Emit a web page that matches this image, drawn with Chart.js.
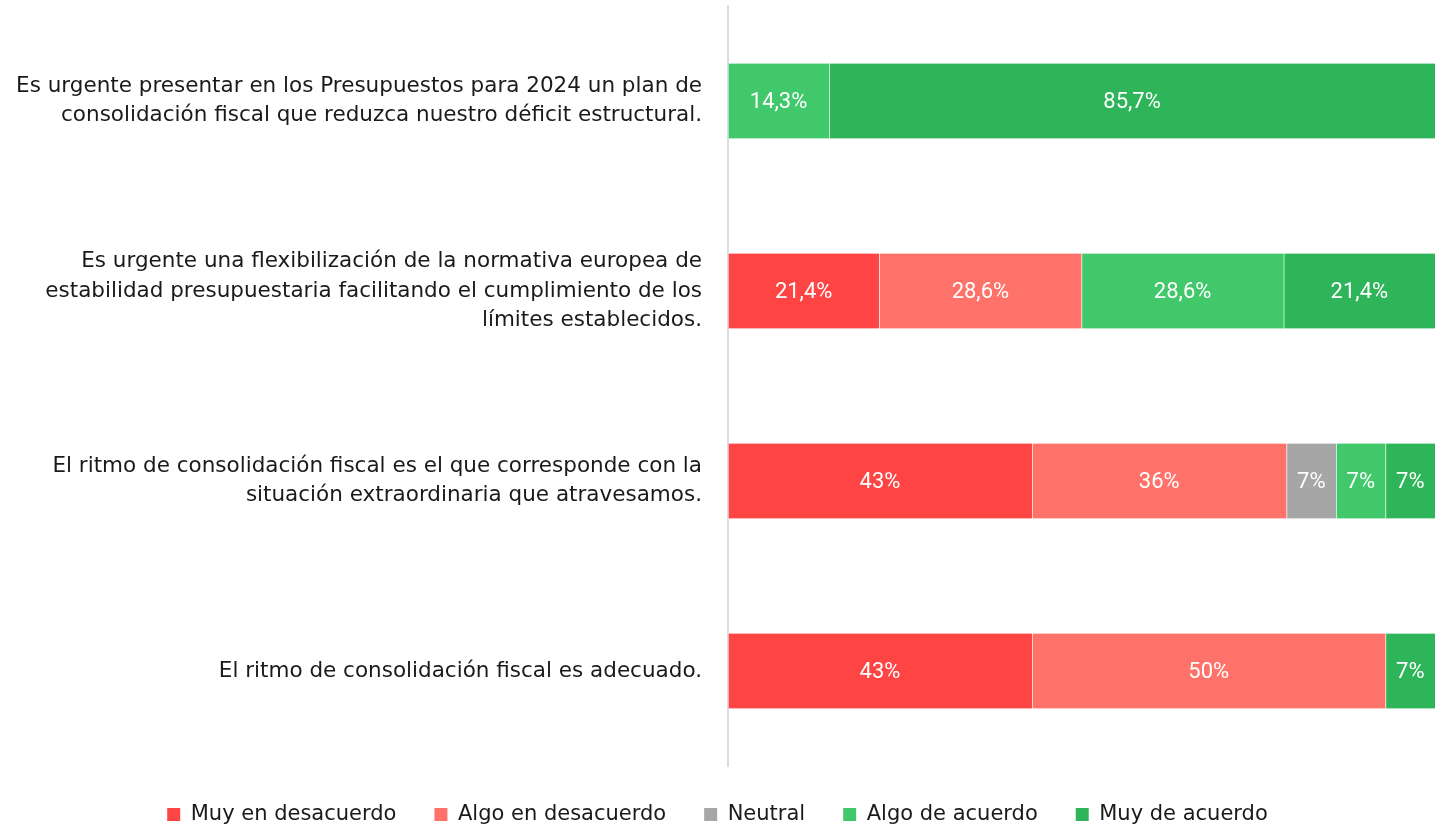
<!DOCTYPE html>
<html>
<head>
<meta charset="utf-8">
<script src="https://cdn.jsdelivr.net/npm/chart.js@4"></script>
<style>
  html, body { margin: 0; padding: 0; background: #fff; }
  #wrap { width: 1435px; height: 829px; position: relative; }
</style>
</head>
<body>
<div id="wrap"><canvas id="chart"></canvas></div>
<script>
// categories (multi-line labels as shown)
const categories = [
  ['Es urgente presentar en los Presupuestos para 2024 un plan de', 'consolidación fiscal que reduzca nuestro déficit estructural.'],
  ['Es urgente una flexibilización de la normativa europea de', 'estabilidad presupuestaria facilitando el cumplimiento de los', 'límites establecidos.'],
  ['El ritmo de consolidación fiscal es el que corresponde con la', 'situación extraordinaria que atravesamos.'],
  ['El ritmo de consolidación fiscal es adecuado.']
];

const seriesNames = ['Muy en desacuerdo', 'Algo en desacuerdo', 'Neutral', 'Algo de acuerdo', 'Muy de acuerdo'];

// values per series, one per category (%)
const muyDesacuerdo  = [0, 21.4, 43, 43];
const algoDesacuerdo = [0, 28.6, 36, 50];
const neutral        = [0, 0, 7, 0];
const algoAcuerdo    = [14.3, 28.6, 7, 0];
const muyAcuerdo     = [85.7, 21.4, 7, 7];

const colors = ['#FF4444', '#FF726A', '#A6A6A6', '#40C86B', '#2EB55A'];

const FONT = '"DejaVu Sans", sans-serif';
const LABEL_FONT = 'Roboto, sans-serif';

const seriesValues = [muyDesacuerdo, algoDesacuerdo, neutral, algoAcuerdo, muyAcuerdo];

function fmt(v) {
  if (Number.isInteger(v)) return v + '%';
  return v.toFixed(1).replace('.', ',') + '%';
}

// draws value labels in the middle of every segment
const segmentLabels = {
  id: 'segmentLabels',
  afterDatasetsDraw(chart) {
    const ctx = chart.ctx;
    ctx.save();
    ctx.fillStyle = '#ffffff';
    ctx.font = '22px ' + LABEL_FONT;
    ctx.textAlign = 'center';
    ctx.textBaseline = 'middle';
    chart.data.datasets.forEach((ds, i) => {
      const meta = chart.getDatasetMeta(i);
      meta.data.forEach((bar, j) => {
        const v = ds.data[j];
        if (!v) return;
        const cx = (bar.x + bar.base) / 2;
        ctx.fillText(fmt(v), cx, bar.y + 1);
      });
    });
    ctx.restore();
  }
};

const datasets = seriesNames.map((name, i) => ({
  label: name,
  data: seriesValues[i],
  backgroundColor: (c) => (c.raw === 0 ? 'rgba(0,0,0,0)' : colors[i]),
  borderColor: 'rgba(255,255,255,0.35)',
  borderWidth: (c) => c.raw ? { left: 1, right: 0, top: 0, bottom: 0 } : 0,
  borderSkipped: false,
  barThickness: 75
}));
// legend boxes need the plain colour
datasets.forEach((d, i) => { d.hoverBackgroundColor = colors[i]; });

const chart = new Chart(document.getElementById('chart'), {
  type: 'bar',
  data: { labels: categories, datasets },
  plugins: [segmentLabels],
  options: {
    indexAxis: 'y',
    responsive: true,
    maintainAspectRatio: false,
    animation: false,
    layout: { padding: { top: 6, right: 0, bottom: -6, left: 0 } },
    scales: {
      x: {
        stacked: true,
        min: 0,
        max: 100,
        display: false
      },
      y: {
        stacked: true,
        grid: { display: false },
        border: { display: true, color: '#DCDCE2', width: 2 },
        ticks: {
          color: '#1a1a1a',
          font: { family: FONT, size: 21.5, lineHeight: 1.38 },
          padding: 18
        },
        afterFit(scale) {
          scale.width = 728;
          scale.paddingTop = 0;
          scale.paddingBottom = 0;
        }
      }
    },
    plugins: {
      legend: {
        position: 'bottom',
        labels: {
          color: '#1a1a1a',
          font: { family: FONT, size: 21 },
          boxWidth: 13,
          boxHeight: 13,
          padding: 38,
          generateLabels(chart) {
            return chart.data.datasets.map((d, i) => ({
              text: d.label,
              fillStyle: colors[i],
              strokeStyle: colors[i],
              lineWidth: 0,
              fontColor: '#1a1a1a',
              hidden: false,
              datasetIndex: i
            }));
          }
        }
      },
      tooltip: { enabled: false }
    }
  }
});
</script>
</body>
</html>
